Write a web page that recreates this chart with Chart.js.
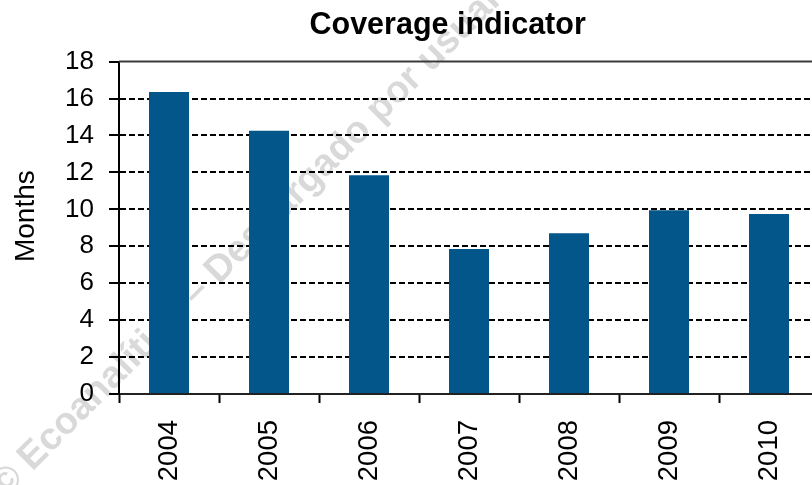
<!DOCTYPE html>
<html>
<head>
<meta charset="utf-8">
<script src="https://cdn.jsdelivr.net/npm/chart.js@4.4.0/dist/chart.umd.min.js"></script>
<style>
  body { margin: 0; overflow: hidden; background: #fff; }
  #container { width: 890px; height: 485px; position: relative; }
</style>
</head>
<body>
<div id="container"><canvas id="myChart"></canvas></div>
<script>
// data
var years = ['2004', '2005', '2006', '2007', '2008', '2009', '2010']
var months = [16.35, 14.25, 11.85, 7.85, 8.7, 9.95, 9.75]
var y_ticks = [0, 2, 4, 6, 8, 10, 12, 14, 16, 18]

var watermark_text = '\u00A9 Ecoanal\u00EDtica \u2013 Descargado por usuario'
var bar_color = '#02568A'

// grey watermark behind everything
var watermark = {
	id: 'watermark',
	beforeDraw: function(chart) {
		var ctx = chart.ctx
		ctx.save()
		ctx.translate(5, 499)
		ctx.rotate(-Math.PI / 4)
		ctx.font = 'bold 38px "Liberation Sans", Arial, sans-serif'
		ctx.fillStyle = '#d9d9d9'
		ctx.textAlign = 'left'
		ctx.textBaseline = 'alphabetic'
		ctx.fillText(watermark_text, 0, 0)
		ctx.restore()
	}
}

// solid line closing the top of the plot
var topline = {
	id: 'topline',
	afterDraw: function(chart) {
		var a = chart.chartArea
		var ctx = chart.ctx
		ctx.save()
		ctx.strokeStyle = '#3a3a3a'
		ctx.lineWidth = 2
		ctx.beginPath()
		ctx.moveTo(a.left, a.top)
		ctx.lineTo(a.right, a.top)
		ctx.stroke()
		ctx.restore()
	}
}

document.addEventListener("DOMContentLoaded", function(event) {
	Chart.defaults.font.family = '"Liberation Sans", Arial, sans-serif'
	Chart.defaults.color = '#000'

	var ctx = document.getElementById('myChart').getContext('2d');
	var myChart = new Chart(ctx, {
	  type: 'bar',
	  data: {
	      labels: years,
	      datasets: [{
	          label: 'Months',
	          data: months,
	          backgroundColor: bar_color,
	          borderWidth: 0,
	          categoryPercentage: 1,
	          barPercentage: 0.4
	      }]
	  },
	  options: {
	    responsive: true,
	    maintainAspectRatio: false,
	    animation: false,
	    layout: { padding: { left: 0, right: 71, top: 0, bottom: 0 } },
	    plugins: {
	      legend: { display: false },
	      tooltip: { enabled: false },
	      title: {
	        display: true,
	        // leading spaces push the title right, as in the picture
	        text: '\u00A0\u00A0\u00A0\u00A0\u00A0\u00A0\u00A0\u00A0\u00A0Coverage indicator',
	        color: '#000',
	        font: { size: 30.5, weight: 'bold' },
	        padding: { top: 7, bottom: 18 }
	      }
	    },
	    scales: {
	      x: {
	        grid: {
	          display: true,
	          drawOnChartArea: false,
	          offset: true,
	          tickLength: 9,
	          tickColor: '#000',
	          tickWidth: 2
	        },
	        border: { color: '#222', width: 2 },
	        ticks: {
	          autoSkip: false,
	          minRotation: 90,
	          maxRotation: 90,
	          padding: 17,
	          color: '#000',
	          font: { size: 27.5 }
	        },
	        afterFit: function(scale) { scale.height = 91 }
	      },
	      y: {
	        min: 0,
	        max: 18,
	        afterBuildTicks: function(scale) {
	          scale.ticks = y_ticks.map(function(v) { return { value: v } })
	        },
	        grid: {
	          color: function(c) { return c.tick && c.tick.value === 18 ? 'rgba(0,0,0,0)' : '#000' },
	          lineWidth: 2,
	          tickBorderDash: [20, 0],
	          tickLength: 10,
	          tickColor: '#000',
	          tickWidth: 2
	        },
	        border: { color: '#000', width: 2, dash: [6, 3] },
	        ticks: {
	          padding: 15,
	          color: '#000',
	          font: { size: 26 }
	        },
	        title: {
	          display: true,
	          text: '   Months',
	          color: '#000',
	          font: { size: 28 },
	          padding: { top: 9, bottom: 0 }
	        },
	        afterFit: function(scale) { scale.width = 119 }
	      }
	    }
	  },
	  plugins: [watermark, topline]
	});
});
</script>
</body>
</html>
